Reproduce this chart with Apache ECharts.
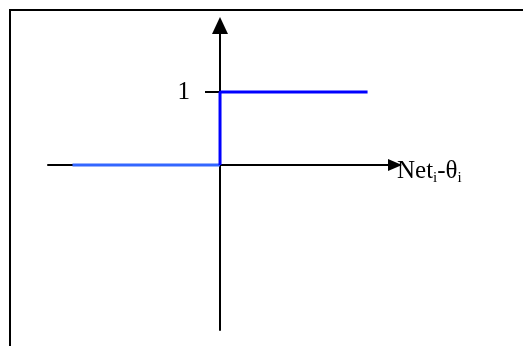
<!DOCTYPE html>
<html>
<head>
<meta charset="utf-8">
<script src="https://cdn.jsdelivr.net/npm/echarts@6/dist/echarts.min.js"></script>
<style>
html,body{margin:0;padding:0;background:#fff;}
#chart{width:523px;height:346px;}
</style>
</head>
<body>
<div id="chart"></div>
<script>
// Data
const lowerX = [-5, 0];
const lowerY = [0, 0];
const upperX = [0, 0, 5];
const upperY = [0, 1, 1];
const yTickValues = [1];
const yTickLabels = ['1'];
const xAxisNameMain = ['Net', '-θ'];
const xAxisNameSub = ['i', 'i'];

const lowerData = lowerX.map((x, i) => [x, lowerY[i]]);
const upperData = upperX.map((x, i) => [x, upperY[i]]);

const serif = '"Liberation Serif", "DejaVu Serif", serif';

const chart = echarts.init(document.getElementById('chart'), null, {renderer: 'canvas'});
chart.setOption({
  animation: false,
  backgroundColor: '#fff',
  grid: {left: 48, right: 128, top: 25.5, bottom: 16, containLabel: false},
  graphic: [{
    type: 'rect',
    shape: {x: 10, y: 10, width: 600, height: 400},
    style: {fill: 'none', stroke: '#000', lineWidth: 2},
    silent: true,
    z: 100
  }],
  xAxis: {
    type: 'value',
    min: -5.83,
    max: 5.93,
    position: 'bottom',
    offset: -165,
    axisLine: {
      show: true,
      onZero: false,
      lineStyle: {color: '#000', width: 2},
      symbol: ['none', 'triangle'],
      symbolSize: [12, 14]
    },
    axisTick: {show: false},
    axisLabel: {show: false},
    splitLine: {show: false},
    name: '{a|' + xAxisNameMain[0] + '}{s|' + xAxisNameSub[0] + '}{a|' + xAxisNameMain[1] + '}{s|' + xAxisNameSub[1] + '}',
    nameLocation: 'end',
    nameGap: 2,
    nameTextStyle: {
      color: '#000',
      fontFamily: serif,
      fontSize: 25,
      padding: [12, 0, 0, 0],
      rich: {
        a: {fontFamily: serif, fontSize: 25, color: '#000', lineHeight: 27},
        s: {fontFamily: serif, fontSize: 15, color: '#000', lineHeight: 27, verticalAlign: 'bottom', padding: [0, 0, -1, 0]}
      }
    }
  },
  yAxis: {
    type: 'value',
    min: -2.26,
    max: 1.91,
    position: 'left',
    offset: -172,
    axisLine: {
      show: true,
      onZero: false,
      lineStyle: {color: '#000', width: 2},
      symbol: ['none', 'triangle'],
      symbolSize: [16, 17]
    },
    axisTick: {
      show: true,
      customValues: yTickValues,
      length: 15,
      lineStyle: {color: '#000', width: 2}
    },
    axisLabel: {
      show: true,
      customValues: yTickValues,
      formatter: (v) => yTickLabels[yTickValues.indexOf(v)] ?? '',
      margin: 30,
      color: '#000',
      fontFamily: serif,
      fontSize: 25
    },
    splitLine: {show: false}
  },
  series: [
    {
      type: 'line',
      data: lowerData,
      symbol: 'none',
      lineStyle: {color: '#3366ff', width: 3, cap: 'butt'},
      z: 3
    },
    {
      type: 'line',
      data: upperData,
      symbol: 'none',
      lineStyle: {color: '#0000ff', width: 3, cap: 'butt'},
      z: 4
    }
  ]
});
</script>
</body>
</html>
